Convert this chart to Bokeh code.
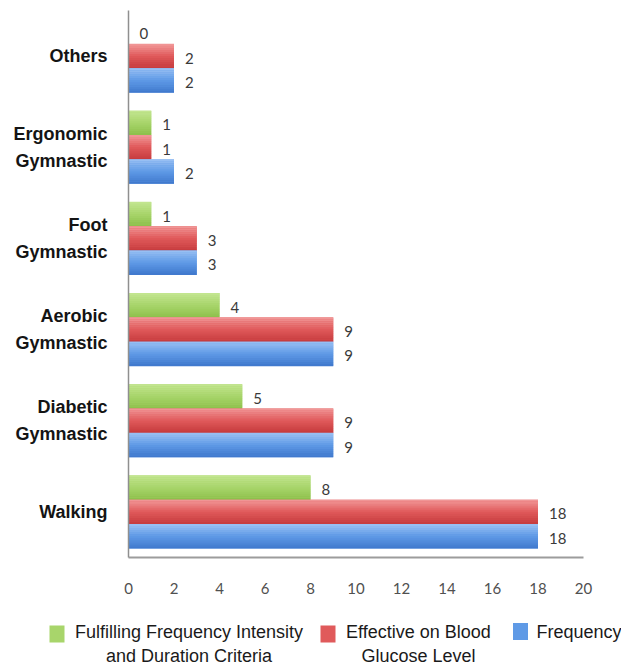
from bokeh.plotting import figure
from bokeh.models import ColumnDataSource, Range1d, FixedTicker
from bokeh.core.properties import value
from bokeh.embed import file_html
from bokeh.resources import INLINE

# Exercise types, bottom to top
activities = ["Walking", "Diabetic\nGymnastic", "Aerobic\nGymnastic",
              "Foot\nGymnastic", "Ergonomic\nGymnastic", "Others"]

fulfilling = [8, 5, 4, 1, 1, 0]   # Fulfilling Frequency Intensity and Duration Criteria
effective = [18, 9, 9, 3, 1, 2]   # Effective on Blood Glucose Level
frequency = [18, 9, 9, 3, 2, 2]   # Frequency

series_names = ["Fulfilling Frequency Intensity\nand Duration Criteria",
                "Effective on Blood\nGlucose Level",
                "Frequency"]

x_ticks = [0, 2, 4, 6, 8, 10, 12, 14, 16, 18, 20]

# top / middle / bottom shades for the glossy bar look
shades = {
    "green": ["#c4e692", "#a8d56b", "#8cbf4a"],
    "red": ["#f29a9a", "#e05a5b", "#c53a3c"],
    "blue": ["#9cc2f4", "#5f9ae6", "#3e77cc"],
}

BAR_H = 0.267
N_STRIPS = 12


def hex_to_rgb(h):
    h = h.lstrip("#")
    return tuple(int(h[i:i + 2], 16) for i in (0, 2, 4))


def mix(c1, c2, t):
    a, b = hex_to_rgb(c1), hex_to_rgb(c2)
    return "#%02x%02x%02x" % tuple(round(a[i] + (b[i] - a[i]) * t) for i in range(3))


def strip_color(tri, t):
    # t = 0 at top edge, 1 at bottom edge
    if t < 0.5:
        return mix(tri[0], tri[1], t / 0.5)
    return mix(tri[1], tri[2], (t - 0.5) / 0.5)


p = figure(width=621, height=600, output_backend="svg", toolbar_location=None,
           x_range=Range1d(0, 20), y_range=Range1d(-0.5, 5.5),
           min_border_left=128, min_border_right=38,
           min_border_top=10, min_border_bottom=43)
p.outline_line_color = None
p.grid.visible = False
p.background_fill_color = "white"
p.border_fill_color = "white"

groups = [(fulfilling, BAR_H, shades["green"]),
          (effective, 0.0, shades["red"]),
          (frequency, -BAR_H, shades["blue"])]

for vals, offset, tri in groups:
    ys = [i + offset for i in range(len(vals))]
    base = ColumnDataSource(dict(y=ys, right=vals))
    p.hbar(y="y", left=0, right="right", height=BAR_H, source=base,
           fill_color=tri[1], line_color=None)
    for k in range(N_STRIPS):
        t = (k + 0.5) / N_STRIPS
        sy = [y + BAR_H / 2 - t * BAR_H for y in ys]
        src = ColumnDataSource(dict(y=sy, right=vals))
        p.hbar(y="y", left=0, right="right", height=BAR_H / N_STRIPS + 0.002,
               source=src, fill_color=strip_color(tri, t), line_color=None)
    lab = ColumnDataSource(dict(x=vals, y=ys, t=[str(v) for v in vals]))
    p.text(x="x", y="y", text="t", source=lab, x_offset=11, y_offset=2,
           text_align="left", text_baseline="middle",
           text_font=value("Lato"), text_font_size="15px", text_color="#3a3a3a")

# axes
p.xaxis.ticker = FixedTicker(ticks=x_ticks)
p.xaxis.major_tick_line_color = None
p.xaxis.minor_tick_line_color = None
p.xaxis.major_tick_out = 0
p.xaxis.major_tick_in = 0
p.xaxis.axis_line_color = "#9c9c9c"
p.xaxis.axis_line_width = 2
p.xaxis.major_label_standoff = 25
p.xaxis.major_label_text_font = "Lato"
p.xaxis.major_label_text_font_size = "15px"
p.xaxis.major_label_text_color = "#505050"

p.yaxis.ticker = FixedTicker(ticks=list(range(len(activities))))
p.yaxis.major_label_overrides = {i: name for i, name in enumerate(activities)}
p.yaxis.major_tick_line_color = None
p.yaxis.minor_tick_line_color = None
p.yaxis.major_tick_out = 0
p.yaxis.major_tick_in = 0
p.yaxis.axis_line_color = "#8f8f8f"
p.yaxis.axis_line_width = 1.5
p.yaxis.major_label_standoff = 21
p.yaxis.major_label_text_font = "Liberation Sans"
p.yaxis.major_label_text_font_style = "bold"
p.yaxis.major_label_text_font_size = "18px"
p.yaxis.major_label_text_color = "#141414"
p.yaxis.major_label_text_line_height = 1.35

# legend strip underneath, a separate root so its frame spans the full width
lg = figure(width=621, height=66, output_backend="svg", toolbar_location=None,
            x_range=Range1d(0, 621), y_range=Range1d(66, 0),
            min_border=0, min_border_left=0, min_border_right=0,
            min_border_top=0, min_border_bottom=0)
lg.outline_line_color = None
lg.grid.visible = False
lg.axis.visible = False

swatch_x = [56.5, 327.5, 520]
swatch_y = [33.5, 33.5, 31]
swatch_c = [shades["green"][1], shades["red"][1], shades["blue"][1]]
text_cx = [188.5, 418, 536]
text_align = ["center", "center", "left"]

lg.rect(x=swatch_x, y=swatch_y, width=15, height=17, fill_color=swatch_c, line_color=None)
for name, cx, al in zip(series_names, text_cx, text_align):
    lines = name.split("\n")
    lg.text(x=[cx] * len(lines), y=[31 + 24 * j for j in range(len(lines))], text=lines,
            text_align=al, text_baseline="middle",
            text_font=value("Liberation Sans"), text_font_size="18px", text_color="#1a1a1a")

open("out.html", "w").write(file_html([p, lg], INLINE))
